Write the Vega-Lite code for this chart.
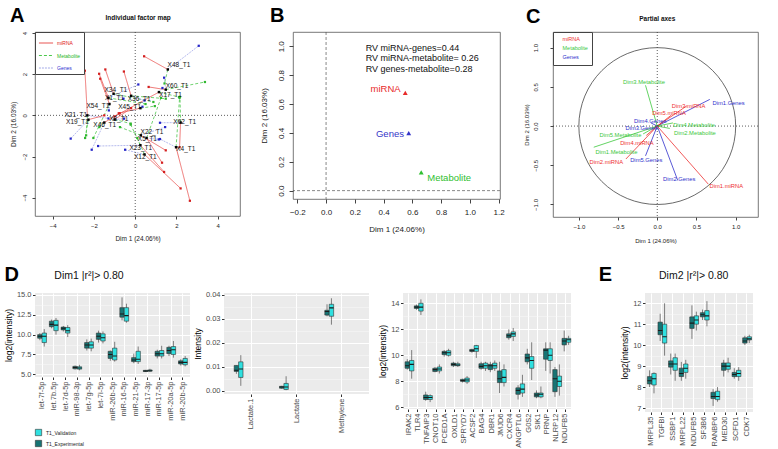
{
  "$schema": "https://vega.github.io/schema/vega-lite/v6.json",
  "background": "white",
  "padding": {"left": 4, "top": 5, "right": 0, "bottom": 0},
  "spacing": 21,
  "resolve": {"scale": {"color": "independent", "fill": "independent", "strokeDash": "independent"}, "legend": {"color": "independent", "fill": "independent", "strokeDash": "independent"}},
  "datasets": {
    "A_part": [
      {"ind":"X48_T1","group":"miRNA","x":0.43,"y":2.87,"cx":1.58,"cy":2.23},
      {"ind":"X48_T1","group":"Metabolite","x":1.42,"y":1.55,"cx":1.58,"cy":2.23},
      {"ind":"X48_T1","group":"Genes","x":3.08,"y":3.38,"cx":1.58,"cy":2.23},
      {"ind":"X60_T1","group":"miRNA","x":0.65,"y":1.38,"cx":1.48,"cy":1.25},
      {"ind":"X60_T1","group":"Metabolite","x":3.38,"y":1.62,"cx":1.48,"cy":1.25},
      {"ind":"X60_T1","group":"Genes","x":1.4,"y":1.83,"cx":1.48,"cy":1.25},
      {"ind":"X17_T1","group":"miRNA","x":-1.0,"y":-0.05,"cx":1.15,"cy":1.13},
      {"ind":"X17_T1","group":"Metabolite","x":2.12,"y":0.89,"cx":1.15,"cy":1.13},
      {"ind":"X17_T1","group":"Genes","x":1.32,"y":1.33,"cx":1.15,"cy":1.13},
      {"ind":"X34_T1","group":"miRNA","x":-1.45,"y":2.23,"cx":-1.05,"cy":1.05},
      {"ind":"X34_T1","group":"Metabolite","x":0.88,"y":0.65,"cx":-1.05,"cy":1.05},
      {"ind":"X34_T1","group":"Genes","x":-0.57,"y":0.81,"cx":-1.05,"cy":1.05},
      {"ind":"X1_T1","group":"miRNA","x":-1.75,"y":2.02,"cx":-1.3,"cy":0.85},
      {"ind":"X1_T1","group":"Metabolite","x":0.5,"y":0.55,"cx":-1.3,"cy":0.85},
      {"ind":"X1_T1","group":"Genes","x":0.15,"y":1.5,"cx":-1.3,"cy":0.85},
      {"ind":"X36_T1","group":"miRNA","x":-0.55,"y":2.13,"cx":-0.2,"cy":0.95},
      {"ind":"X36_T1","group":"Metabolite","x":1.48,"y":0.81,"cx":-0.2,"cy":0.95},
      {"ind":"X36_T1","group":"Genes","x":0.45,"y":0.72,"cx":-0.2,"cy":0.95},
      {"ind":"X54_T1","group":"miRNA","x":-1.7,"y":1.78,"cx":-1.25,"cy":0.55},
      {"ind":"X54_T1","group":"Metabolite","x":-2.03,"y":-1.1,"cx":-1.25,"cy":0.55},
      {"ind":"X54_T1","group":"Genes","x":-1.28,"y":0.24,"cx":-1.25,"cy":0.55},
      {"ind":"X45_T1","group":"miRNA","x":-0.8,"y":0.1,"cx":0.25,"cy":0.35},
      {"ind":"X45_T1","group":"Metabolite","x":0.95,"y":0.45,"cx":0.25,"cy":0.35},
      {"ind":"X45_T1","group":"Genes","x":0.35,"y":0.42,"cx":0.25,"cy":0.35},
      {"ind":"X21_T1","group":"miRNA","x":-2.44,"y":2.17,"cx":-2.32,"cy":0.0},
      {"ind":"X21_T1","group":"Metabolite","x":-2.38,"y":-0.97,"cx":-2.32,"cy":0.0},
      {"ind":"X21_T1","group":"Genes","x":-1.3,"y":-0.15,"cx":-2.32,"cy":0.0},
      {"ind":"X19_T1","group":"miRNA","x":-1.5,"y":0.0,"cx":-2.27,"cy":-0.21},
      {"ind":"X19_T1","group":"Metabolite","x":-2.43,"y":-1.1,"cx":-2.27,"cy":-0.21},
      {"ind":"X19_T1","group":"Genes","x":-3.13,"y":-1.13,"cx":-2.27,"cy":-0.21},
      {"ind":"X46_T1","group":"miRNA","x":-0.75,"y":0.1,"cx":-1.5,"cy":-0.35},
      {"ind":"X46_T1","group":"Metabolite","x":-1.74,"y":-0.57,"cx":-1.5,"cy":-0.35},
      {"ind":"X46_T1","group":"Genes","x":-2.11,"y":-1.67,"cx":-1.5,"cy":-0.35},
      {"ind":"X8_T1","group":"miRNA","x":-0.2,"y":0.35,"cx":-1.0,"cy":-0.2},
      {"ind":"X8_T1","group":"Metabolite","x":-0.22,"y":-0.4,"cx":-1.0,"cy":-0.2},
      {"ind":"X8_T1","group":"Genes","x":-0.54,"y":-0.16,"cx":-1.0,"cy":-0.2},
      {"ind":"X62_T1","group":"miRNA","x":2.15,"y":-1.55,"cx":2.2,"cy":-0.35},
      {"ind":"X62_T1","group":"Metabolite","x":2.17,"y":0.9,"cx":2.2,"cy":-0.35},
      {"ind":"X62_T1","group":"Genes","x":1.2,"y":-0.36,"cx":2.2,"cy":-0.35},
      {"ind":"X22_T1","group":"miRNA","x":1.48,"y":-1.7,"cx":0.27,"cy":-0.97},
      {"ind":"X22_T1","group":"Metabolite","x":-0.74,"y":-0.57,"cx":0.27,"cy":-0.97},
      {"ind":"X22_T1","group":"Genes","x":1.45,"y":-0.57,"cx":0.27,"cy":-0.97},
      {"ind":"X5_T1","group":"miRNA","x":1.3,"y":-2.3,"cx":0.55,"cy":-1.1},
      {"ind":"X5_T1","group":"Metabolite","x":1.25,"y":0.85,"cx":0.55,"cy":-1.1},
      {"ind":"X5_T1","group":"Genes","x":1.14,"y":-1.17,"cx":0.55,"cy":-1.1},
      {"ind":"X23_T1","group":"miRNA","x":1.4,"y":-2.75,"cx":0.25,"cy":-1.45},
      {"ind":"X23_T1","group":"Metabolite","x":-0.22,"y":-0.45,"cx":0.25,"cy":-1.45},
      {"ind":"X23_T1","group":"Genes","x":-1.8,"y":-1.49,"cx":0.25,"cy":-1.45},
      {"ind":"X12_T1","group":"miRNA","x":2.2,"y":-3.55,"cx":0.45,"cy":-1.9},
      {"ind":"X12_T1","group":"Metabolite","x":0.1,"y":-1.1,"cx":0.45,"cy":-1.9},
      {"ind":"X12_T1","group":"Genes","x":-0.49,"y":-1.67,"cx":0.45,"cy":-1.9},
      {"ind":"X4_T1","group":"miRNA","x":2.65,"y":-4.15,"cx":1.98,"cy":-1.55},
      {"ind":"X4_T1","group":"Metabolite","x":2.15,"y":0.85,"cx":1.98,"cy":-1.55},
      {"ind":"X4_T1","group":"Genes","x":1.2,"y":-1.15,"cx":1.98,"cy":-1.55}
    ],
    "A_ind": [
      {"ind":"X48_T1","cx":1.58,"cy":2.23,"lx":2.12,"ly":2.43},
      {"ind":"X60_T1","cx":1.48,"cy":1.25,"lx":2.03,"ly":1.41},
      {"ind":"X17_T1","cx":1.15,"cy":1.13,"lx":1.71,"ly":0.97},
      {"ind":"X34_T1","cx":-1.05,"cy":1.05,"lx":-0.94,"ly":1.25},
      {"ind":"X1_T1","cx":-1.3,"cy":0.85,"lx":-1.0,"ly":0.83},
      {"ind":"X36_T1","cx":-0.2,"cy":0.95,"lx":0.19,"ly":0.79},
      {"ind":"X54_T1","cx":-1.25,"cy":0.55,"lx":-1.81,"ly":0.45},
      {"ind":"X45_T1","cx":0.25,"cy":0.35,"lx":-0.27,"ly":0.4},
      {"ind":"X21_T1","cx":-2.32,"cy":0.0,"lx":-2.88,"ly":0.0},
      {"ind":"X19_T1","cx":-2.27,"cy":-0.21,"lx":-2.8,"ly":-0.32},
      {"ind":"X46_T1","cx":-1.5,"cy":-0.35,"lx":-1.48,"ly":-0.47},
      {"ind":"X8_T1","cx":-1.0,"cy":-0.2,"lx":-0.8,"ly":-0.19},
      {"ind":"X62_T1","cx":2.2,"cy":-0.35,"lx":2.4,"ly":-0.32},
      {"ind":"X22_T1","cx":0.27,"cy":-0.97,"lx":0.81,"ly":-0.79},
      {"ind":"X5_T1","cx":0.55,"cy":-1.1,"lx":0.59,"ly":-1.17},
      {"ind":"X23_T1","cx":0.25,"cy":-1.45,"lx":0.27,"ly":-1.59},
      {"ind":"X12_T1","cx":0.45,"cy":-1.9,"lx":0.49,"ly":-2.02},
      {"ind":"X4_T1","cx":1.98,"cy":-1.55,"lx":2.45,"ly":-1.62}
    ],
    "B_grp": [
      {"group":"miRNA","x":0.551,"y":0.678,"lx":0.519,"ly":0.701},
      {"group":"Genes","x":0.575,"y":0.398,"lx":0.542,"ly":0.393},
      {"group":"Metabolite","x":0.662,"y":0.127,"lx":0.704,"ly":0.0875}
    ],
    "B_rv": [
      {"label":"RV miRNA-genes=0.44","x":0.276,"y":0.99},
      {"label":"RV miRNA-metabolite= 0.26","x":0.276,"y":0.917},
      {"label":"RV genes-metabolite=0.28","x":0.276,"y":0.845}
    ],
    "C_var": [
      {"var":"Dim1.Genes","group":"Genes","x":0.67,"y":0.34,"lx":0.91,"ly":0.29},
      {"var":"Dim3.miRNA","group":"miRNA","x":0.38,"y":0.26,"lx":0.4,"ly":0.255},
      {"var":"Dim5.miRNA","group":"miRNA","x":0.18,"y":0.14,"lx":0.15,"ly":0.166},
      {"var":"Dim4.Genes","group":"Genes","x":-0.08,"y":0.04,"lx":-0.09,"ly":0.064},
      {"var":"Dim3.Genes","group":"Genes","x":-0.04,"y":-0.02,"lx":-0.2,"ly":-0.026},
      {"var":"Dim4.Metabolite","group":"Metabolite","x":0.2,"y":0.04,"lx":0.47,"ly":0.017},
      {"var":"Dim2.Metabolite","group":"Metabolite","x":0.16,"y":-0.03,"lx":0.48,"ly":-0.085},
      {"var":"Dim3.Metabolite","group":"Metabolite","x":-0.15,"y":0.52,"lx":-0.17,"ly":0.56},
      {"var":"Dim5.Metabolite","group":"Metabolite","x":-0.18,"y":-0.1,"lx":-0.47,"ly":-0.12},
      {"var":"Dim4.miRNA","group":"miRNA","x":-0.14,"y":-0.12,"lx":-0.26,"ly":-0.21},
      {"var":"Dim1.Metabolite","group":"Metabolite","x":-0.81,"y":-0.27,"lx":-0.52,"ly":-0.33},
      {"var":"Dim2.miRNA","group":"miRNA","x":-0.4,"y":-0.42,"lx":-0.65,"ly":-0.46},
      {"var":"Dim5.Genes","group":"Genes","x":-0.15,"y":-0.38,"lx":-0.14,"ly":-0.43},
      {"var":"Dim2.Genes","group":"Genes","x":0.26,"y":-0.69,"lx":0.28,"ly":-0.67},
      {"var":"Dim1.miRNA","group":"miRNA","x":0.65,"y":-0.74,"lx":0.88,"ly":-0.77}
    ],
    "D1": [
      {"cat":"let-7f-5p","grp":"T1_Experimental","lo":9.3,"q1":9.55,"med":9.8,"q3":10.0,"hi":10.2},
      {"cat":"let-7f-5p","grp":"T1_Validation","lo":8.5,"q1":9.0,"med":9.8,"q3":10.2,"hi":10.7},
      {"cat":"let.7b.5p","grp":"T1_Experimental","lo":10.8,"q1":11.0,"med":11.3,"q3":11.7,"hi":11.9},
      {"cat":"let.7b.5p","grp":"T1_Validation","lo":10.0,"q1":10.5,"med":11.2,"q3":11.8,"hi":12.1},
      {"cat":"let-7d-5p","grp":"T1_Experimental","lo":10.4,"q1":10.6,"med":10.8,"q3":10.95,"hi":11.1},
      {"cat":"let-7d-5p","grp":"T1_Validation","lo":9.7,"q1":10.2,"med":10.5,"q3":10.9,"hi":11.2},
      {"cat":"miR-98-3p","grp":"T1_Experimental","lo":5.6,"q1":5.7,"med":5.85,"q3":6.0,"hi":6.1},
      {"cat":"miR-98-3p","grp":"T1_Validation","lo":5.5,"q1":5.65,"med":5.8,"q3":5.95,"hi":6.2},
      {"cat":"let-7g-5p","grp":"T1_Experimental","lo":8.0,"q1":8.3,"med":8.7,"q3":9.0,"hi":9.4},
      {"cat":"let-7g-5p","grp":"T1_Validation","lo":7.9,"q1":8.3,"med":8.7,"q3":9.1,"hi":9.5},
      {"cat":"let-7i-5p","grp":"T1_Experimental","lo":9.0,"q1":9.4,"med":9.8,"q3":10.2,"hi":10.5},
      {"cat":"let-7i-5p","grp":"T1_Validation","lo":8.9,"q1":9.2,"med":9.6,"q3":10.1,"hi":10.4},
      {"cat":"miR-26b-5p","grp":"T1_Experimental","lo":6.7,"q1":7.0,"med":7.5,"q3":7.9,"hi":8.0},
      {"cat":"miR-26b-5p","grp":"T1_Validation","lo":6.6,"q1":6.8,"med":7.3,"q3":8.3,"hi":9.1},
      {"cat":"miR-16-5p","grp":"T1_Experimental","lo":11.8,"q1":12.2,"med":12.6,"q3":13.4,"hi":14.7},
      {"cat":"miR-16-5p","grp":"T1_Validation","lo":11.5,"q1":11.7,"med":12.4,"q3":13.4,"hi":13.9},
      {"cat":"miR-21-5p","grp":"T1_Experimental","lo":6.4,"q1":6.6,"med":6.8,"q3":7.1,"hi":7.6},
      {"cat":"miR-21-5p","grp":"T1_Validation","lo":6.3,"q1":6.6,"med":6.9,"q3":7.9,"hi":8.5},
      {"cat":"miR-17-3p","grp":"T1_Experimental","lo":5.3,"q1":5.35,"med":5.42,"q3":5.5,"hi":5.55},
      {"cat":"miR-17-3p","grp":"T1_Validation","lo":5.3,"q1":5.4,"med":5.45,"q3":5.55,"hi":5.7},
      {"cat":"miR-17-5p","grp":"T1_Experimental","lo":7.0,"q1":7.3,"med":7.6,"q3":7.9,"hi":8.1},
      {"cat":"miR-17-5p","grp":"T1_Validation","lo":7.0,"q1":7.3,"med":7.6,"q3":8.0,"hi":8.6},
      {"cat":"miR-20a-5p","grp":"T1_Experimental","lo":7.3,"q1":7.6,"med":8.0,"q3":8.4,"hi":8.6},
      {"cat":"miR-20a-5p","grp":"T1_Validation","lo":7.1,"q1":7.5,"med":8.1,"q3":8.5,"hi":9.2},
      {"cat":"miR-20b-5p","grp":"T1_Experimental","lo":6.1,"q1":6.3,"med":6.5,"q3":6.7,"hi":6.9},
      {"cat":"miR-20b-5p","grp":"T1_Validation","lo":6.0,"q1":6.2,"med":6.5,"q3":7.0,"hi":7.3}
    ],
    "D2": [
      {"cat":"Lactate.1","grp":"T1_Experimental","lo":0.007,"q1":0.008,"med":0.0085,"q3":0.0105,"hi":0.0105},
      {"cat":"Lactate.1","grp":"T1_Validation","lo":0.002,"q1":0.0055,"med":0.009,"q3":0.012,"hi":0.0148},
      {"cat":"Lactate","grp":"T1_Experimental","lo":0.0008,"q1":0.001,"med":0.0015,"q3":0.0018,"hi":0.002},
      {"cat":"Lactate","grp":"T1_Validation","lo":0.0002,"q1":0.0005,"med":0.0015,"q3":0.003,"hi":0.006},
      {"cat":"Methylene","grp":"T1_Experimental","lo":0.031,"q1":0.0315,"med":0.033,"q3":0.0335,"hi":0.036},
      {"cat":"Methylene","grp":"T1_Validation","lo":0.0275,"q1":0.031,"med":0.0345,"q3":0.036,"hi":0.0385}
    ],
    "D3": [
      {"cat":"IRAK2","grp":"T1_Validation","lo":8.2,"q1":8.8,"med":9.3,"q3":9.6,"hi":10.4},
      {"cat":"IRAK2","grp":"T1_Experimental","lo":8.9,"q1":9.0,"med":9.2,"q3":9.5,"hi":9.7},
      {"cat":"TLR4","grp":"T1_Validation","lo":13.1,"q1":13.4,"med":13.7,"q3":14.0,"hi":14.3},
      {"cat":"TLR4","grp":"T1_Experimental","lo":13.5,"q1":13.6,"med":13.7,"q3":13.8,"hi":13.9},
      {"cat":"TNFAIP3","grp":"T1_Validation","lo":6.4,"q1":6.6,"med":6.75,"q3":6.9,"hi":7.0},
      {"cat":"TNFAIP3","grp":"T1_Experimental","lo":6.5,"q1":6.6,"med":6.75,"q3":6.95,"hi":7.2},
      {"cat":"CNOT10","grp":"T1_Validation","lo":8.6,"q1":8.8,"med":8.95,"q3":9.1,"hi":9.3},
      {"cat":"CNOT10","grp":"T1_Experimental","lo":8.7,"q1":8.75,"med":8.9,"q3":9.0,"hi":9.1},
      {"cat":"PCED1A","grp":"T1_Validation","lo":9.9,"q1":10.0,"med":10.2,"q3":10.35,"hi":10.5},
      {"cat":"PCED1A","grp":"T1_Experimental","lo":9.9,"q1":10.05,"med":10.2,"q3":10.3,"hi":10.4},
      {"cat":"OXLD1","grp":"T1_Validation","lo":9.1,"q1":9.2,"med":9.25,"q3":9.35,"hi":9.5},
      {"cat":"OXLD1","grp":"T1_Experimental","lo":9.1,"q1":9.2,"med":9.3,"q3":9.4,"hi":9.5},
      {"cat":"SPRYD7","grp":"T1_Validation","lo":7.8,"q1":7.95,"med":8.1,"q3":8.25,"hi":8.4},
      {"cat":"SPRYD7","grp":"T1_Experimental","lo":7.9,"q1":8.0,"med":8.05,"q3":8.15,"hi":8.2},
      {"cat":"ACSF2","grp":"T1_Validation","lo":9.8,"q1":10.3,"med":10.5,"q3":10.75,"hi":10.8},
      {"cat":"ACSF2","grp":"T1_Experimental","lo":10.2,"q1":10.3,"med":10.35,"q3":10.45,"hi":10.5},
      {"cat":"BAG4","grp":"T1_Validation","lo":8.8,"q1":9.0,"med":9.2,"q3":9.4,"hi":9.5},
      {"cat":"BAG4","grp":"T1_Experimental","lo":8.9,"q1":9.0,"med":9.15,"q3":9.35,"hi":9.5},
      {"cat":"DBR1","grp":"T1_Validation","lo":8.8,"q1":9.0,"med":9.2,"q3":9.4,"hi":9.6},
      {"cat":"DBR1","grp":"T1_Experimental","lo":8.7,"q1":8.9,"med":9.2,"q3":9.3,"hi":9.5},
      {"cat":"JMJD6","grp":"T1_Validation","lo":7.6,"q1":7.9,"med":8.3,"q3":8.9,"hi":9.3},
      {"cat":"JMJD6","grp":"T1_Experimental","lo":7.1,"q1":7.9,"med":8.2,"q3":8.8,"hi":9.5},
      {"cat":"CXCR4","grp":"T1_Validation","lo":11.1,"q1":11.45,"med":11.65,"q3":11.8,"hi":12.1},
      {"cat":"CXCR4","grp":"T1_Experimental","lo":11.2,"q1":11.35,"med":11.5,"q3":11.65,"hi":12.0},
      {"cat":"ANGPTL6","grp":"T1_Validation","lo":6.8,"q1":7.1,"med":7.4,"q3":7.8,"hi":8.5},
      {"cat":"ANGPTL6","grp":"T1_Experimental","lo":6.6,"q1":7.0,"med":7.3,"q3":7.5,"hi":7.7},
      {"cat":"G0S2","grp":"T1_Validation","lo":8.1,"q1":9.0,"med":9.6,"q3":9.9,"hi":11.0},
      {"cat":"G0S2","grp":"T1_Experimental","lo":9.3,"q1":9.5,"med":9.8,"q3":10.1,"hi":10.5},
      {"cat":"SIK1","grp":"T1_Validation","lo":6.7,"q1":6.8,"med":7.0,"q3":7.1,"hi":7.6},
      {"cat":"SIK1","grp":"T1_Experimental","lo":6.7,"q1":6.8,"med":6.95,"q3":7.1,"hi":7.3},
      {"cat":"PRNP","grp":"T1_Validation","lo":8.6,"q1":9.6,"med":10.0,"q3":10.5,"hi":11.0},
      {"cat":"PRNP","grp":"T1_Experimental","lo":8.8,"q1":9.7,"med":10.4,"q3":10.5,"hi":11.0},
      {"cat":"NLRP12","grp":"T1_Validation","lo":6.9,"q1":7.6,"med":8.0,"q3":8.4,"hi":9.3},
      {"cat":"NLRP12","grp":"T1_Experimental","lo":6.8,"q1":7.2,"med":8.2,"q3":8.9,"hi":9.1},
      {"cat":"NDUFB5","grp":"T1_Validation","lo":10.8,"q1":11.0,"med":11.2,"q3":11.3,"hi":11.5},
      {"cat":"NDUFB5","grp":"T1_Experimental","lo":10.3,"q1":10.8,"med":11.1,"q3":11.3,"hi":11.9}
    ],
    "E": [
      {"cat":"MRPL35","grp":"T1_Validation","lo":7.7,"q1":8.1,"med":8.4,"q3":8.65,"hi":8.7},
      {"cat":"MRPL35","grp":"T1_Experimental","lo":8.0,"q1":8.15,"med":8.3,"q3":8.5,"hi":8.8},
      {"cat":"TGFBI","grp":"T1_Validation","lo":9.5,"q1":10.1,"med":10.4,"q3":11.0,"hi":12.0},
      {"cat":"TGFBI","grp":"T1_Experimental","lo":10.2,"q1":10.5,"med":10.7,"q3":11.1,"hi":11.5},
      {"cat":"SSBP1","grp":"T1_Validation","lo":8.3,"q1":8.8,"med":9.1,"q3":9.4,"hi":9.6},
      {"cat":"SSBP1","grp":"T1_Experimental","lo":8.6,"q1":8.95,"med":9.1,"q3":9.25,"hi":9.6},
      {"cat":"MRPL22","grp":"T1_Validation","lo":8.4,"q1":8.7,"med":8.9,"q3":9.1,"hi":9.3},
      {"cat":"MRPL22","grp":"T1_Experimental","lo":8.3,"q1":8.5,"med":8.65,"q3":8.9,"hi":9.2},
      {"cat":"NDUFB5","grp":"T1_Validation","lo":10.7,"q1":11.0,"med":11.2,"q3":11.4,"hi":11.6},
      {"cat":"NDUFB5","grp":"T1_Experimental","lo":10.3,"q1":10.8,"med":11.05,"q3":11.35,"hi":11.9},
      {"cat":"SF3B6","grp":"T1_Validation","lo":10.9,"q1":11.2,"med":11.4,"q3":11.65,"hi":12.1},
      {"cat":"SF3B6","grp":"T1_Experimental","lo":11.2,"q1":11.35,"med":11.45,"q3":11.55,"hi":11.7},
      {"cat":"RANBP6","grp":"T1_Validation","lo":7.3,"q1":7.4,"med":7.55,"q3":7.8,"hi":8.0},
      {"cat":"RANBP6","grp":"T1_Experimental","lo":7.1,"q1":7.45,"med":7.55,"q3":7.75,"hi":7.9},
      {"cat":"MED30","grp":"T1_Validation","lo":8.7,"q1":8.85,"med":9.0,"q3":9.15,"hi":9.4},
      {"cat":"MED30","grp":"T1_Experimental","lo":8.5,"q1":8.8,"med":9.0,"q3":9.15,"hi":9.3},
      {"cat":"SCFD1","grp":"T1_Validation","lo":8.3,"q1":8.5,"med":8.65,"q3":8.8,"hi":8.95},
      {"cat":"SCFD1","grp":"T1_Experimental","lo":8.4,"q1":8.5,"med":8.6,"q3":8.7,"hi":8.9},
      {"cat":"CDK7","grp":"T1_Validation","lo":10.1,"q1":10.25,"med":10.3,"q3":10.4,"hi":10.5},
      {"cat":"CDK7","grp":"T1_Experimental","lo":10.0,"q1":10.1,"med":10.2,"q3":10.35,"hi":10.45}
    ]
  },
  "vconcat": [
    {
      "bounds": "flush",
      "spacing": 53,
      "resolve": {"scale": {"color": "independent", "fill": "independent", "strokeDash": "independent"}, "legend": {"color": "independent", "fill": "independent", "strokeDash": "independent"}},
      "hconcat": [
        {
          "width": 205, "height": 184,
          "title": {"text": "A", "offset": -11},
          "view": {"stroke": "#555", "strokeWidth": 0.8},
          "layer": [
            {
              "data": {"name": "A_part"},
              "mark": {"type": "rule", "strokeWidth": 0.8},
              "encoding": {
                "x": {"field": "cx", "type": "quantitative", "scale": {"domain": [-4.86, 5.08], "nice": false, "zero": false},
                  "axis": {"title": "Dim 1 (24.06%)", "values": [-4, -2, 0, 2, 4], "grid": false, "domain": false, "labelOverlap": false, "tickSize": 3, "tickColor": "#444", "labelFontSize": 6, "labelPadding": 3, "labelColor": "#222", "titleFontSize": 6.5, "titlePadding": 7, "titleColor": "#222"}},
                "y": {"field": "cy", "type": "quantitative", "scale": {"domain": [-4.89, 4.05], "nice": false, "zero": false},
                  "axis": {"title": "Dim 2 (16.03%)", "values": [-4, -2, 0, 2, 4], "grid": false, "domain": false, "labelOverlap": false, "tickSize": 3, "tickColor": "#444", "labelFontSize": 6, "labelPadding": 5, "labelAngle": -90, "labelAlign": "center", "labelBaseline": "bottom", "labelColor": "#222", "titleFontSize": 6.5, "titlePadding": 5, "titleColor": "#222"}},
                "x2": {"field": "x"},
                "y2": {"field": "y"},
                "color": {"field": "group", "type": "nominal", "scale": {"domain": ["miRNA", "Metabolite", "Genes"], "range": ["#e8504e", "#4cc84c", "#a3aae8"]},
                  "legend": {"orient": "top-left", "title": null, "offset": 0, "padding": 3, "strokeColor": "#444", "fillColor": "white", "labelFontSize": 5, "labelOffset": 3, "rowPadding": 1.5, "symbolType": "stroke", "symbolSize": 200, "symbolStrokeWidth": 1,
                    "encode": {"labels": {"update": {"fill": {"signal": "datum.value === 'miRNA' ? '#e02020' : datum.value === 'Metabolite' ? '#28b828' : '#2a2ad0'"}}}}}},
                "strokeDash": {"field": "group", "type": "nominal", "scale": {"domain": ["miRNA", "Metabolite", "Genes"], "range": [[1, 0], [3, 2], [2, 1]]},
                  "legend": {"orient": "top-left", "title": null, "offset": 0}}
              }
            },
            {"data": {"values": [{}]}, "mark": {"type": "rule", "strokeDash": [1, 2], "color": "#333", "strokeWidth": 0.8}, "encoding": {"y": {"datum": 0}}},
            {"data": {"values": [{}]}, "mark": {"type": "rule", "strokeDash": [1, 2], "color": "#333", "strokeWidth": 0.8}, "encoding": {"x": {"datum": 0}}},
            {
              "data": {"name": "A_part"},
              "mark": {"type": "square", "size": 5, "opacity": 1},
              "encoding": {
                "x": {"field": "x", "type": "quantitative"},
                "y": {"field": "y", "type": "quantitative"},
                "fill": {"field": "group", "type": "nominal", "scale": {"domain": ["miRNA", "Metabolite", "Genes"], "range": ["#d42020", "#30b830", "#2525c8"]}, "legend": null}
              }
            },
            {
              "data": {"name": "A_ind"},
              "mark": {"type": "square", "size": 6, "color": "black", "opacity": 1},
              "encoding": {"x": {"field": "cx", "type": "quantitative"}, "y": {"field": "cy", "type": "quantitative"}}
            },
            {
              "data": {"name": "A_ind"},
              "mark": {"type": "text", "fontSize": 6.5, "color": "#111"},
              "encoding": {"x": {"field": "lx", "type": "quantitative"}, "y": {"field": "ly", "type": "quantitative"}, "text": {"field": "ind"}}
            },
            {
              "data": {"values": [{}]},
              "mark": {"type": "text", "text": "Individual factor map", "fontSize": 6.5, "fontWeight": "bold", "color": "#111"},
              "encoding": {"x": {"datum": 0.14}, "y": {"datum": 4.74}}
            }
          ]
        },
        {
          "width": 207, "height": 167,
          "title": {"text": "B", "offset": 6, "dx": 10},
          "view": {"stroke": "#555", "strokeWidth": 0.8},
          "layer": [
            {
              "data": {"name": "B_grp"},
              "mark": {"type": "point", "shape": "triangle-up", "filled": true, "size": 24, "opacity": 1},
              "encoding": {
                "x": {"field": "x", "type": "quantitative", "scale": {"domain": [-0.23, 1.21], "nice": false, "zero": false},
                  "axis": {"title": "Dim 1 (24.06%)", "values": [-0.2, 0, 0.2, 0.4, 0.6, 0.8, 1.0, 1.2], "format": ".1f", "grid": false, "domain": false, "labelOverlap": false, "tickSize": 4, "tickColor": "#444", "labelFontSize": 8, "labelPadding": 5, "labelColor": "#222", "titleFontSize": 8, "titlePadding": 9, "titleColor": "#222"}},
                "y": {"field": "y", "type": "quantitative", "scale": {"domain": [-0.058, 1.099], "nice": false, "zero": false},
                  "axis": {"title": "Dim 2 (16.03%)", "values": [0, 0.2, 0.4, 0.6, 0.8, 1.0], "format": ".1f", "grid": false, "domain": false, "labelOverlap": false, "tickSize": 4, "tickColor": "#444", "labelFontSize": 8, "labelPadding": 4, "labelAngle": -90, "labelAlign": "center", "labelBaseline": "bottom", "labelColor": "#222", "titleFontSize": 8, "titlePadding": 9, "titleColor": "#222"}},
                "color": {"field": "group", "type": "nominal", "scale": {"domain": ["miRNA", "Metabolite", "Genes"], "range": ["#e82a2a", "#30c030", "#3535c8"]}, "legend": null}
              }
            },
            {"data": {"values": [{}]}, "mark": {"type": "rule", "strokeDash": [3, 2], "color": "#555", "strokeWidth": 0.7},
             "encoding": {"y": {"datum": 0, "type": "quantitative",
               "axis": {"title": "Dim 2 (16.03%)", "values": [0, 0.2, 0.4, 0.6, 0.8, 1.0], "format": ".1f", "grid": false, "domain": false, "labelOverlap": false, "tickSize": 4, "tickColor": "#444", "labelFontSize": 8, "labelPadding": 4, "labelAngle": -90, "labelAlign": "center", "labelBaseline": "bottom", "labelColor": "#222", "titleFontSize": 8, "titlePadding": 9, "titleColor": "#222"}}}},
            {"data": {"values": [{}]}, "mark": {"type": "rule", "strokeDash": [3, 2], "color": "#555", "strokeWidth": 0.7},
             "encoding": {"x": {"datum": 0, "type": "quantitative",
               "axis": {"title": "Dim 1 (24.06%)", "values": [-0.2, 0, 0.2, 0.4, 0.6, 0.8, 1.0, 1.2], "format": ".1f", "grid": false, "domain": false, "labelOverlap": false, "tickSize": 4, "tickColor": "#444", "labelFontSize": 8, "labelPadding": 5, "labelColor": "#222", "titleFontSize": 8, "titlePadding": 9, "titleColor": "#222"}}}},
            {
              "data": {"name": "B_grp"},
              "transform": [{"filter": "datum.group !== 'Metabolite'"}],
              "mark": {"type": "text", "align": "right", "fontSize": 9.5},
              "encoding": {
                "x": {"field": "lx", "type": "quantitative",
                  "axis": {"title": "Dim 1 (24.06%)", "values": [-0.2, 0, 0.2, 0.4, 0.6, 0.8, 1.0, 1.2], "format": ".1f", "grid": false, "domain": false, "labelOverlap": false, "tickSize": 4, "tickColor": "#444", "labelFontSize": 8, "labelPadding": 5, "labelColor": "#222", "titleFontSize": 8, "titlePadding": 9, "titleColor": "#222"}},
                "y": {"field": "ly", "type": "quantitative",
                  "axis": {"title": "Dim 2 (16.03%)", "values": [0, 0.2, 0.4, 0.6, 0.8, 1.0], "format": ".1f", "grid": false, "domain": false, "labelOverlap": false, "tickSize": 4, "tickColor": "#444", "labelFontSize": 8, "labelPadding": 4, "labelAngle": -90, "labelAlign": "center", "labelBaseline": "bottom", "labelColor": "#222", "titleFontSize": 8, "titlePadding": 9, "titleColor": "#222"}},
                "text": {"field": "group"},
                "color": {"field": "group", "type": "nominal", "legend": null}
              }
            },
            {
              "data": {"name": "B_grp"},
              "transform": [{"filter": "datum.group === 'Metabolite'"}],
              "mark": {"type": "text", "align": "left", "fontSize": 9.5},
              "encoding": {
                "x": {"field": "lx", "type": "quantitative",
                  "axis": {"title": "Dim 1 (24.06%)", "values": [-0.2, 0, 0.2, 0.4, 0.6, 0.8, 1.0, 1.2], "format": ".1f", "grid": false, "domain": false, "labelOverlap": false, "tickSize": 4, "tickColor": "#444", "labelFontSize": 8, "labelPadding": 5, "labelColor": "#222", "titleFontSize": 8, "titlePadding": 9, "titleColor": "#222"}},
                "y": {"field": "ly", "type": "quantitative",
                  "axis": {"title": "Dim 2 (16.03%)", "values": [0, 0.2, 0.4, 0.6, 0.8, 1.0], "format": ".1f", "grid": false, "domain": false, "labelOverlap": false, "tickSize": 4, "tickColor": "#444", "labelFontSize": 8, "labelPadding": 4, "labelAngle": -90, "labelAlign": "center", "labelBaseline": "bottom", "labelColor": "#222", "titleFontSize": 8, "titlePadding": 9, "titleColor": "#222"}},
                "text": {"field": "group"},
                "color": {"field": "group", "type": "nominal", "legend": null}
              }
            },
            {
              "data": {"name": "B_rv"},
              "mark": {"type": "text", "align": "left", "fontSize": 9, "color": "#111"},
              "encoding": {
                "x": {"field": "x", "type": "quantitative",
                  "axis": {"title": "Dim 1 (24.06%)", "values": [-0.2, 0, 0.2, 0.4, 0.6, 0.8, 1.0, 1.2], "format": ".1f", "grid": false, "domain": false, "labelOverlap": false, "tickSize": 4, "tickColor": "#444", "labelFontSize": 8, "labelPadding": 5, "labelColor": "#222", "titleFontSize": 8, "titlePadding": 9, "titleColor": "#222"}},
                "y": {"field": "y", "type": "quantitative",
                  "axis": {"title": "Dim 2 (16.03%)", "values": [0, 0.2, 0.4, 0.6, 0.8, 1.0], "format": ".1f", "grid": false, "domain": false, "labelOverlap": false, "tickSize": 4, "tickColor": "#444", "labelFontSize": 8, "labelPadding": 4, "labelAngle": -90, "labelAlign": "center", "labelBaseline": "bottom", "labelColor": "#222", "titleFontSize": 8, "titlePadding": 9, "titleColor": "#222"}},
                "text": {"field": "label"}
              }
            }
          ]
        },
        {
          "width": 205, "height": 185,
          "title": {"text": "C", "offset": -11, "dx": 3},
          "view": {"stroke": "#555", "strokeWidth": 0.8},
          "layer": [
            {
              "data": {"name": "C_var"},
              "mark": {"type": "rule", "strokeWidth": 0.8},
              "encoding": {
                "x": {"field": "x", "type": "quantitative", "scale": {"domain": [-1.33, 1.285], "nice": false, "zero": false},
                  "axis": {"title": "Dim 1 (24.06%)", "values": [-1, -0.5, 0, 0.5, 1], "format": ".1f", "grid": false, "domain": false, "labelOverlap": false, "tickSize": 3, "tickColor": "#444", "labelFontSize": 6, "labelPadding": 3, "labelColor": "#222", "titleFontSize": 6, "titlePadding": 8, "titleColor": "#222"}},
                "y": {"field": "y", "type": "quantitative", "scale": {"domain": [-1.16, 1.2], "nice": false, "zero": false},
                  "axis": {"title": "Dim 2 (16.03%)", "values": [-1, -0.5, 0, 0.5, 1], "format": ".1f", "grid": false, "domain": false, "labelOverlap": false, "tickSize": 3, "tickColor": "#444", "labelFontSize": 6, "labelPadding": 12, "labelAngle": -90, "labelAlign": "center", "labelBaseline": "bottom", "labelColor": "#222", "titleFontSize": 6, "titlePadding": 3, "titleColor": "#222"}},
                "x2": {"datum": 0},
                "y2": {"datum": 0},
                "color": {"field": "group", "type": "nominal", "scale": {"domain": ["miRNA", "Metabolite", "Genes"], "range": ["#ee3030", "#3cc83c", "#3030cc"]},
                  "legend": {"orient": "top-left", "title": null, "offset": 0, "padding": 4, "strokeColor": "#444", "fillColor": "white", "labelFontSize": 5.5, "labelOffset": 0, "rowPadding": 2, "symbolSize": 0, "symbolOpacity": 0, "symbolStrokeWidth": 0,
                    "encode": {"labels": {"update": {"fill": {"signal": "datum.value === 'miRNA' ? '#ee3030' : datum.value === 'Metabolite' ? '#3cc83c' : '#3030cc'"}}}}}}
              }
            },
            {"data": {"values": [{}]}, "mark": {"type": "rule", "strokeDash": [1, 2], "color": "#333", "strokeWidth": 0.8}, "encoding": {"y": {"datum": 0}}},
            {"data": {"values": [{}]}, "mark": {"type": "rule", "strokeDash": [1, 2], "color": "#333", "strokeWidth": 0.8}, "encoding": {"x": {"datum": 0}}},
            {"data": {"values": [{}]}, "mark": {"type": "point", "shape": "circle", "size": 24600, "filled": false, "stroke": "#444", "strokeWidth": 0.8, "opacity": 1}, "encoding": {"x": {"datum": 0}, "y": {"datum": 0}}},
            {
              "data": {"name": "C_var"},
              "mark": {"type": "text", "fontSize": 5.8},
              "encoding": {
                "x": {"field": "lx", "type": "quantitative"},
                "y": {"field": "ly", "type": "quantitative"},
                "text": {"field": "var"},
                "color": {"field": "group", "type": "nominal", "legend": null}
              }
            },
            {
              "data": {"values": [{}]},
              "mark": {"type": "text", "text": "Partial axes", "fontSize": 6.5, "fontWeight": "bold", "color": "#111"},
              "encoding": {"x": {"datum": 0.0}, "y": {"datum": 1.37}}
            }
          ]
        }
      ]
    },
    {
      "bounds": "flush",
      "spacing": 34,
      "resolve": {"scale": {"color": "independent", "fill": "independent", "strokeDash": "independent"}, "legend": {"color": "independent", "fill": "independent", "strokeDash": "independent"}},
      "hconcat": [
        {
          "width": 155, "height": 84,
          "title": {"text": "D", "offset": -14},
          "view": {"fill": "#EBEBEB", "stroke": null},
          "resolve": {"axis": {"y": "independent"}},
          "layer": [
            {
              "data": {"name": "D1"},
              "resolve": {"axis": {"y": "independent"}},
              "encoding": {
                "x": {"field": "cat", "type": "nominal", "sort": null, "scale": {"paddingInner": 0.25, "paddingOuter": 0.225},
                  "axis": {"title": null, "labelAngle": -90, "labelAlign": "right", "labelBaseline": "middle", "labelFontSize": 7.5, "labelColor": "#4d4d4d", "labelPadding": 1.5, "tickColor": "#333", "tickSize": 2.5, "domain": false, "grid": true, "gridColor": "white", "gridWidth": 1, "bandPosition": 0.5, "labelLimit": 200}},
                "xOffset": {"field": "grp", "type": "nominal", "scale": {"domain": ["T1_Experimental", "T1_Validation"], "paddingInner": 0, "paddingOuter": 0}}
              },
              "layer": [
                {"mark": {"type": "rule", "color": "#333", "strokeWidth": 0.6},
                 "encoding": {"y": {"field": "lo", "type": "quantitative", "scale": {"domain": [4.66, 15.25], "nice": false, "zero": false},
                   "axis": {"title": "log2(intensity)", "values": [5, 7.5, 10, 12.5, 15], "format": ".1f", "grid": true, "gridColor": "white", "gridWidth": 1, "domain": false, "tickColor": "#333", "tickSize": 2.5, "labelFontSize": 7.5, "labelColor": "#4d4d4d", "labelPadding": 1.5, "titleFontSize": 8.5, "titleColor": "#000", "titlePadding": 3}},
                   "y2": {"field": "hi"}}},
                {"mark": {"type": "bar", "stroke": "#333", "strokeWidth": 0.6},
                 "encoding": {"y": {"field": "q1", "type": "quantitative",
                   "axis": {"orient": "left", "values": [6.25, 8.75, 11.25, 13.75], "grid": true, "gridColor": "#f8f8f8", "gridWidth": 0.5, "labels": false, "ticks": false, "domain": false, "title": null}},
                   "y2": {"field": "q3"},
                   "fill": {"field": "grp", "type": "nominal", "scale": {"domain": ["T1_Validation", "T1_Experimental"], "range": ["#2fe0e0", "#177474"]},
                     "legend": {"orient": "bottom", "direction": "vertical", "title": null, "symbolType": "square", "symbolSize": 40, "symbolStrokeColor": "#333", "symbolStrokeWidth": 0.6, "labelFontSize": 5, "rowPadding": 2, "offset": 8}}}},
                {"mark": {"type": "bar", "fill": "transparent", "stroke": "#1a1a1a", "strokeWidth": 1.1},
                 "encoding": {"y": {"field": "med", "type": "quantitative", "axis": null}, "y2": {"field": "med"}}}
              ]
            },
            {
              "data": {"values": [{}]},
              "mark": {"type": "text", "text": "Dim1 |r²|> 0.80", "fontSize": 10.5, "color": "#111"},
              "encoding": {"x": {"datum": "let-7g-5p"}, "y": {"datum": 17.39, "axis": null}}
            }
          ]
        },
        {
          "width": 145, "height": 101,
          "view": {"fill": "#EBEBEB", "stroke": null},
          "data": {"name": "D2"},
          "resolve": {"axis": {"y": "independent"}},
          "encoding": {
            "x": {"field": "cat", "type": "nominal", "sort": null, "scale": {"paddingInner": 0.25, "paddingOuter": 0.225},
              "axis": {"title": null, "labelAngle": -90, "labelAlign": "right", "labelBaseline": "middle", "labelFontSize": 7.5, "labelColor": "#4d4d4d", "labelPadding": 1.5, "tickColor": "#333", "tickSize": 2.5, "domain": false, "grid": true, "gridColor": "white", "gridWidth": 1, "bandPosition": 0.5, "labelLimit": 200}},
            "xOffset": {"field": "grp", "type": "nominal", "scale": {"domain": ["T1_Experimental", "T1_Validation"], "paddingInner": 0, "paddingOuter": 0}}
          },
          "layer": [
            {"mark": {"type": "rule", "color": "#333", "strokeWidth": 0.6},
             "encoding": {"y": {"field": "lo", "type": "quantitative", "scale": {"domain": [-0.0014, 0.0407], "nice": false, "zero": false},
               "axis": {"title": "Intensity", "values": [0, 0.01, 0.02, 0.03, 0.04], "format": ".2f", "grid": true, "gridColor": "white", "gridWidth": 1, "domain": false, "tickColor": "#333", "tickSize": 2.5, "labelFontSize": 7.5, "labelColor": "#4d4d4d", "labelPadding": 1.5, "titleFontSize": 8.5, "titleColor": "#000", "titlePadding": 3}},
               "y2": {"field": "hi"}}},
            {"mark": {"type": "bar", "stroke": "#333", "strokeWidth": 0.6},
             "encoding": {"y": {"field": "q1", "type": "quantitative",
               "axis": {"orient": "left", "values": [0.005, 0.015, 0.025, 0.035], "grid": true, "gridColor": "#f8f8f8", "gridWidth": 0.5, "labels": false, "ticks": false, "domain": false, "title": null}},
               "y2": {"field": "q3"},
               "fill": {"field": "grp", "type": "nominal", "scale": {"domain": ["T1_Validation", "T1_Experimental"], "range": ["#2fe0e0", "#177474"]}, "legend": null}}},
            {"mark": {"type": "bar", "fill": "transparent", "stroke": "#1a1a1a", "strokeWidth": 1.1},
             "encoding": {"y": {"field": "med", "type": "quantitative", "axis": null}, "y2": {"field": "med"}}}
          ]
        },
        {
          "width": 168, "height": 116,
          "view": {"fill": "#EBEBEB", "stroke": null},
          "data": {"name": "D3"},
          "resolve": {"axis": {"y": "independent"}},
          "encoding": {
            "x": {"field": "cat", "type": "nominal", "sort": null, "scale": {"paddingInner": 0.25, "paddingOuter": 0.225},
              "axis": {"title": null, "labelAngle": -90, "labelAlign": "right", "labelBaseline": "middle", "labelFontSize": 7.5, "labelColor": "#4d4d4d", "labelPadding": 1.5, "tickColor": "#333", "tickSize": 2.5, "domain": false, "grid": true, "gridColor": "white", "gridWidth": 1, "bandPosition": 0.5, "labelLimit": 200}},
            "xOffset": {"field": "grp", "type": "nominal", "scale": {"domain": ["T1_Validation", "T1_Experimental"], "paddingInner": 0, "paddingOuter": 0}}
          },
          "layer": [
            {"mark": {"type": "rule", "color": "#333", "strokeWidth": 0.6},
             "encoding": {"y": {"field": "lo", "type": "quantitative", "scale": {"domain": [5.87, 14.79], "nice": false, "zero": false},
               "axis": {"title": "log2(intensity)", "values": [6, 8, 10, 12, 14], "grid": true, "gridColor": "white", "gridWidth": 1, "domain": false, "tickColor": "#333", "tickSize": 2.5, "labelFontSize": 7.5, "labelColor": "#4d4d4d", "labelPadding": 1.5, "titleFontSize": 8.5, "titleColor": "#000", "titlePadding": 3}},
               "y2": {"field": "hi"}}},
            {"mark": {"type": "bar", "stroke": "#333", "strokeWidth": 0.6},
             "encoding": {"y": {"field": "q1", "type": "quantitative",
               "axis": {"orient": "left", "values": [7, 9, 11, 13], "grid": true, "gridColor": "#f8f8f8", "gridWidth": 0.5, "labels": false, "ticks": false, "domain": false, "title": null}},
               "y2": {"field": "q3"},
               "fill": {"field": "grp", "type": "nominal", "scale": {"domain": ["T1_Validation", "T1_Experimental"], "range": ["#2fe0e0", "#177474"]}, "legend": null}}},
            {"mark": {"type": "bar", "fill": "transparent", "stroke": "#1a1a1a", "strokeWidth": 1.1},
             "encoding": {"y": {"field": "med", "type": "quantitative", "axis": null}, "y2": {"field": "med"}}}
          ]
        },
        {
          "width": 6, "height": 10,
          "data": {"values": [{}]},
          "mark": {"type": "point", "opacity": 0},
          "encoding": {}
        },
        {
          "width": 108, "height": 119,
          "title": {"text": "E", "offset": -14, "dx": -22},
          "view": {"fill": "#EBEBEB", "stroke": null},
          "resolve": {"axis": {"y": "independent"}},
          "layer": [
            {
              "data": {"name": "E"},
              "resolve": {"axis": {"y": "independent"}},
              "encoding": {
                "x": {"field": "cat", "type": "nominal", "sort": null, "scale": {"paddingInner": 0.25, "paddingOuter": 0.225},
                  "axis": {"title": null, "labelAngle": -90, "labelAlign": "right", "labelBaseline": "middle", "labelFontSize": 7.5, "labelColor": "#4d4d4d", "labelPadding": 1.5, "tickColor": "#333", "tickSize": 2.5, "domain": false, "grid": true, "gridColor": "white", "gridWidth": 1, "bandPosition": 0.5, "labelLimit": 200}},
                "xOffset": {"field": "grp", "type": "nominal", "scale": {"domain": ["T1_Validation", "T1_Experimental"], "paddingInner": 0, "paddingOuter": 0}}
              },
              "layer": [
                {"mark": {"type": "rule", "color": "#333", "strokeWidth": 0.6},
                 "encoding": {"y": {"field": "lo", "type": "quantitative", "scale": {"domain": [6.81, 12.49], "nice": false, "zero": false},
                   "axis": {"title": "log2(intensity)", "values": [7, 8, 9, 10, 11, 12], "grid": true, "gridColor": "white", "gridWidth": 1, "domain": false, "tickColor": "#333", "tickSize": 2.5, "labelFontSize": 7.5, "labelColor": "#4d4d4d", "labelPadding": 1.5, "titleFontSize": 8.5, "titleColor": "#000", "titlePadding": 3}},
                   "y2": {"field": "hi"}}},
                {"mark": {"type": "bar", "stroke": "#333", "strokeWidth": 0.6},
                 "encoding": {"y": {"field": "q1", "type": "quantitative",
                   "axis": {"orient": "left", "values": [7.5, 8.5, 9.5, 10.5, 11.5], "grid": true, "gridColor": "#f8f8f8", "gridWidth": 0.5, "labels": false, "ticks": false, "domain": false, "title": null}},
                   "y2": {"field": "q3"},
                   "fill": {"field": "grp", "type": "nominal", "scale": {"domain": ["T1_Validation", "T1_Experimental"], "range": ["#2fe0e0", "#177474"]}, "legend": null}}},
                {"mark": {"type": "bar", "fill": "transparent", "stroke": "#1a1a1a", "strokeWidth": 1.1},
                 "encoding": {"y": {"field": "med", "type": "quantitative", "axis": null}, "y2": {"field": "med"}}}
              ]
            },
            {
              "data": {"values": [{}]},
              "mark": {"type": "text", "text": "Dim2 |r²|> 0.80", "fontSize": 10.5, "color": "#111"},
              "encoding": {"x": {"datum": "NDUFB5"}, "y": {"datum": 13.3, "axis": null}}
            }
          ]
        }
      ]
    }
  ],
  "config": {
    "font": "Liberation Sans",
    "view": {"stroke": null},
    "title": {"fontSize": 20, "fontWeight": "bold", "anchor": "start", "frame": "bounds", "color": "#000"},
    "axis": {"titleFontWeight": "normal", "labelOverlap": false},
    "legend": {"labelColor": "#222"}
  }
}
